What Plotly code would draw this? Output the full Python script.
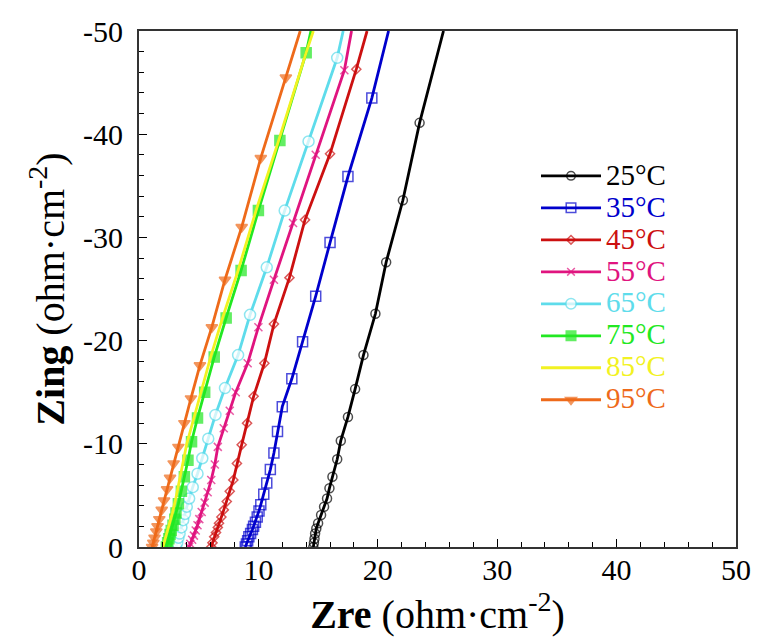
import plotly.graph_objects as go

# ---------------- data ----------------
labels = ["25°C", "35°C", "45°C", "55°C", "65°C", "75°C", "85°C", "95°C"]

x25 = [14.6, 14.65, 14.7, 14.75, 14.85, 15.0, 15.25, 15.5, 15.75, 15.95, 16.2, 16.6, 16.9, 17.5, 18.1, 18.8, 19.8, 20.7, 22.1, 23.5, 25.5]
y25 = [0.0, -0.4, -0.8, -1.3, -1.8, -2.3, -3.1, -3.9, -4.7, -5.7, -6.8, -8.5, -10.3, -12.6, -15.3, -18.6, -22.6, -27.6, -33.6, -41.1, -50.0]

x35 = [8.9, 9.0, 9.1, 9.2, 9.35, 9.5, 9.6, 9.75, 9.9, 10.05, 10.2, 10.45, 10.7, 11.0, 11.3, 11.6, 12.0, 12.8, 13.7, 14.8, 16.0, 17.5, 19.5, 20.9]
y35 = [0.0, -0.3, -0.6, -1.0, -1.3, -1.7, -2.0, -2.4, -2.9, -3.5, -4.1, -5.1, -6.2, -7.5, -9.1, -11.2, -13.6, -16.3, -19.9, -24.3, -29.5, -35.9, -43.5, -50.0]

x45 = [6.05, 6.15, 6.3, 6.45, 6.6, 6.7, 6.9, 7.1, 7.35, 7.6, 7.9, 8.2, 8.6, 9.05, 9.6, 10.5, 11.3, 12.6, 13.9, 16.0, 18.2, 19.1]
y45 = [0.0, -0.4, -1.0, -1.4, -1.9, -2.3, -2.9, -3.6, -4.4, -5.4, -6.5, -8.1, -9.9, -12.0, -14.6, -17.8, -21.6, -26.1, -31.7, -38.1, -46.3, -50.0]

x55 = [4.2, 4.3, 4.45, 4.6, 4.75, 4.9, 5.05, 5.25, 5.5, 5.75, 6.05, 6.35, 6.6, 7.1, 7.6, 8.1, 9.1, 10.0, 11.3, 12.9, 14.8, 17.2, 17.8]
y55 = [0.0, -0.3, -0.7, -1.1, -1.6, -2.1, -2.7, -3.4, -4.3, -5.3, -6.5, -8.0, -9.7, -11.5, -13.2, -15.0, -17.8, -21.3, -25.9, -31.4, -38.0, -46.2, -50.0]

x65 = [3.1, 3.2, 3.3, 3.4, 3.55, 3.7, 3.85, 4.0, 4.2, 4.5, 4.9, 5.3, 5.8, 6.4, 7.2, 8.3, 9.3, 10.7, 12.2, 14.2, 16.6, 17.1]
y65 = [0.0, -0.4, -0.9, -1.3, -1.9, -2.6, -3.2, -3.9, -4.7, -5.8, -7.1, -8.6, -10.5, -12.8, -15.4, -18.6, -22.5, -27.1, -32.6, -39.3, -47.4, -50.0]

x75 = [2.3, 2.4, 2.5, 2.6, 2.7, 2.85, 3.0, 3.1, 3.3, 3.55, 3.8, 4.1, 4.4, 4.9, 5.5, 6.3, 7.3, 8.55, 10.0, 11.8, 14.0, 14.4]
y75 = [0.0, -0.4, -0.8, -1.2, -1.6, -2.1, -2.7, -3.3, -4.2, -5.4, -6.8, -8.4, -10.2, -12.5, -15.0, -18.4, -22.2, -26.8, -32.6, -39.4, -47.9, -50.0]

x85 = [2.0, 2.2, 2.4, 2.6, 2.8, 3.1, 3.4, 3.7, 4.0, 4.6, 5.2, 6.0, 7.0, 8.3, 9.8, 11.7, 14.0, 14.6]
y85 = [0.0, -0.8, -1.6, -2.4, -3.3, -4.8, -6.5, -8.2, -10.0, -12.5, -15.0, -18.4, -22.2, -26.8, -32.6, -39.4, -47.9, -50.0]

x95 = [1.1, 1.2, 1.3, 1.45, 1.55, 1.7, 1.9, 2.1, 2.35, 2.6, 2.9, 3.3, 3.8, 4.35, 5.1, 6.1, 7.2, 8.6, 10.2, 12.3, 13.5]
y95 = [0.0, -0.4, -0.9, -1.5, -2.0, -2.7, -3.6, -4.5, -5.6, -6.7, -8.1, -9.7, -12.0, -14.4, -17.6, -21.3, -25.9, -31.0, -37.7, -45.5, -50.0]

x_ticks = [0, 10, 20, 30, 40, 50]
x_ticktext = ["0", "10", "20", "30", "40", "50"]
y_ticks = [0, -10, -20, -30, -40, -50]
y_ticktext = ["0", "-10", "-20", "-30", "-40", "-50"]

# ---------------- styles ----------------
colors = ["#000000", "#0000CC", "#CC1010", "#E0147F", "#5EDCEB", "#22E822", "#F2F222", "#EE6A1A"]
symbols = ["circle-open", "square-open", "diamond-open", "x-thin-open", "circle", "square", None, "triangle-down"]
fills = [None, None, None, None, "white", None, None, None]
msizes = [9, 10, 7, 8, 11, 10, 0, 10]

series = [(x25, y25), (x35, y35), (x45, y45), (x55, y55), (x65, y65), (x75, y75), (x85, y85), (x95, y95)]

fig = go.Figure()
for i, ((xs, ys), lab) in enumerate(zip(series, labels)):
    n = len(xs)
    if symbols[i] is None:
        mode = "lines"
        marker = dict()
    else:
        mode = "lines+markers"
        # last point is only the line end at the frame: no marker drawn there
        sizes = [msizes[i]] * (n - 1) + [0]
        marker = dict(symbol=symbols[i], size=sizes,
                      color=fills[i] if fills[i] else colors[i],
                      line=dict(color=colors[i], width=1.5))
    fig.add_trace(go.Scatter(
        x=xs, y=ys, mode=mode, marker=marker,
        line=dict(color=colors[i], width=2.8),
        name=f"<span style='font-size:29px;color:{colors[i]}'>{lab}</span>",
    ))

font_family = "Liberation Serif, Times New Roman, serif"

fig.update_layout(
    width=763, height=637,
    margin=dict(l=139, r=20, t=31, b=90),
    paper_bgcolor="white", plot_bgcolor="white",
    font=dict(family=font_family, size=30, color="black"),
    showlegend=True,
    legend=dict(x=0.665, y=0.76, xanchor="left", yanchor="top",
                bgcolor="rgba(0,0,0,0)", font=dict(size=22.3, family=font_family),
                itemwidth=60, tracegroupgap=0),
)
fig.update_xaxes(
    range=[0, 50], tickvals=x_ticks, ticktext=x_ticktext,
    ticks="inside", ticklen=8, tickwidth=1.2, tickcolor="black",
    minor=dict(dtick=2, ticks="inside", ticklen=5, tickwidth=1, tickcolor="black"),
    showline=True, linecolor="#333", linewidth=2, mirror=True, showgrid=False, zeroline=False,
    tickfont=dict(size=30), ticklabelstandoff=-5,
    title=dict(text="<b>Zre</b> (ohm·cm<sup>-2</sup>)", font=dict(size=40), standoff=9),
)
fig.update_yaxes(
    range=[0, -50], tickvals=y_ticks, ticktext=y_ticktext,
    ticks="inside", ticklen=8, tickwidth=1.2, tickcolor="black",
    minor=dict(dtick=2, ticks="inside", ticklen=5, tickwidth=1, tickcolor="black"),
    showline=True, linecolor="#333", linewidth=2, mirror=True, showgrid=False, zeroline=False,
    tickfont=dict(size=30), ticklabelstandoff=8,
    title=dict(text="<b>Zing</b> (ohm·cm<sup>-2</sup>)", font=dict(size=40), standoff=6),
)

fig.write_html("out.html", config={"displayModeBar": False},
               post_script="document.body.style.margin='0px';")
